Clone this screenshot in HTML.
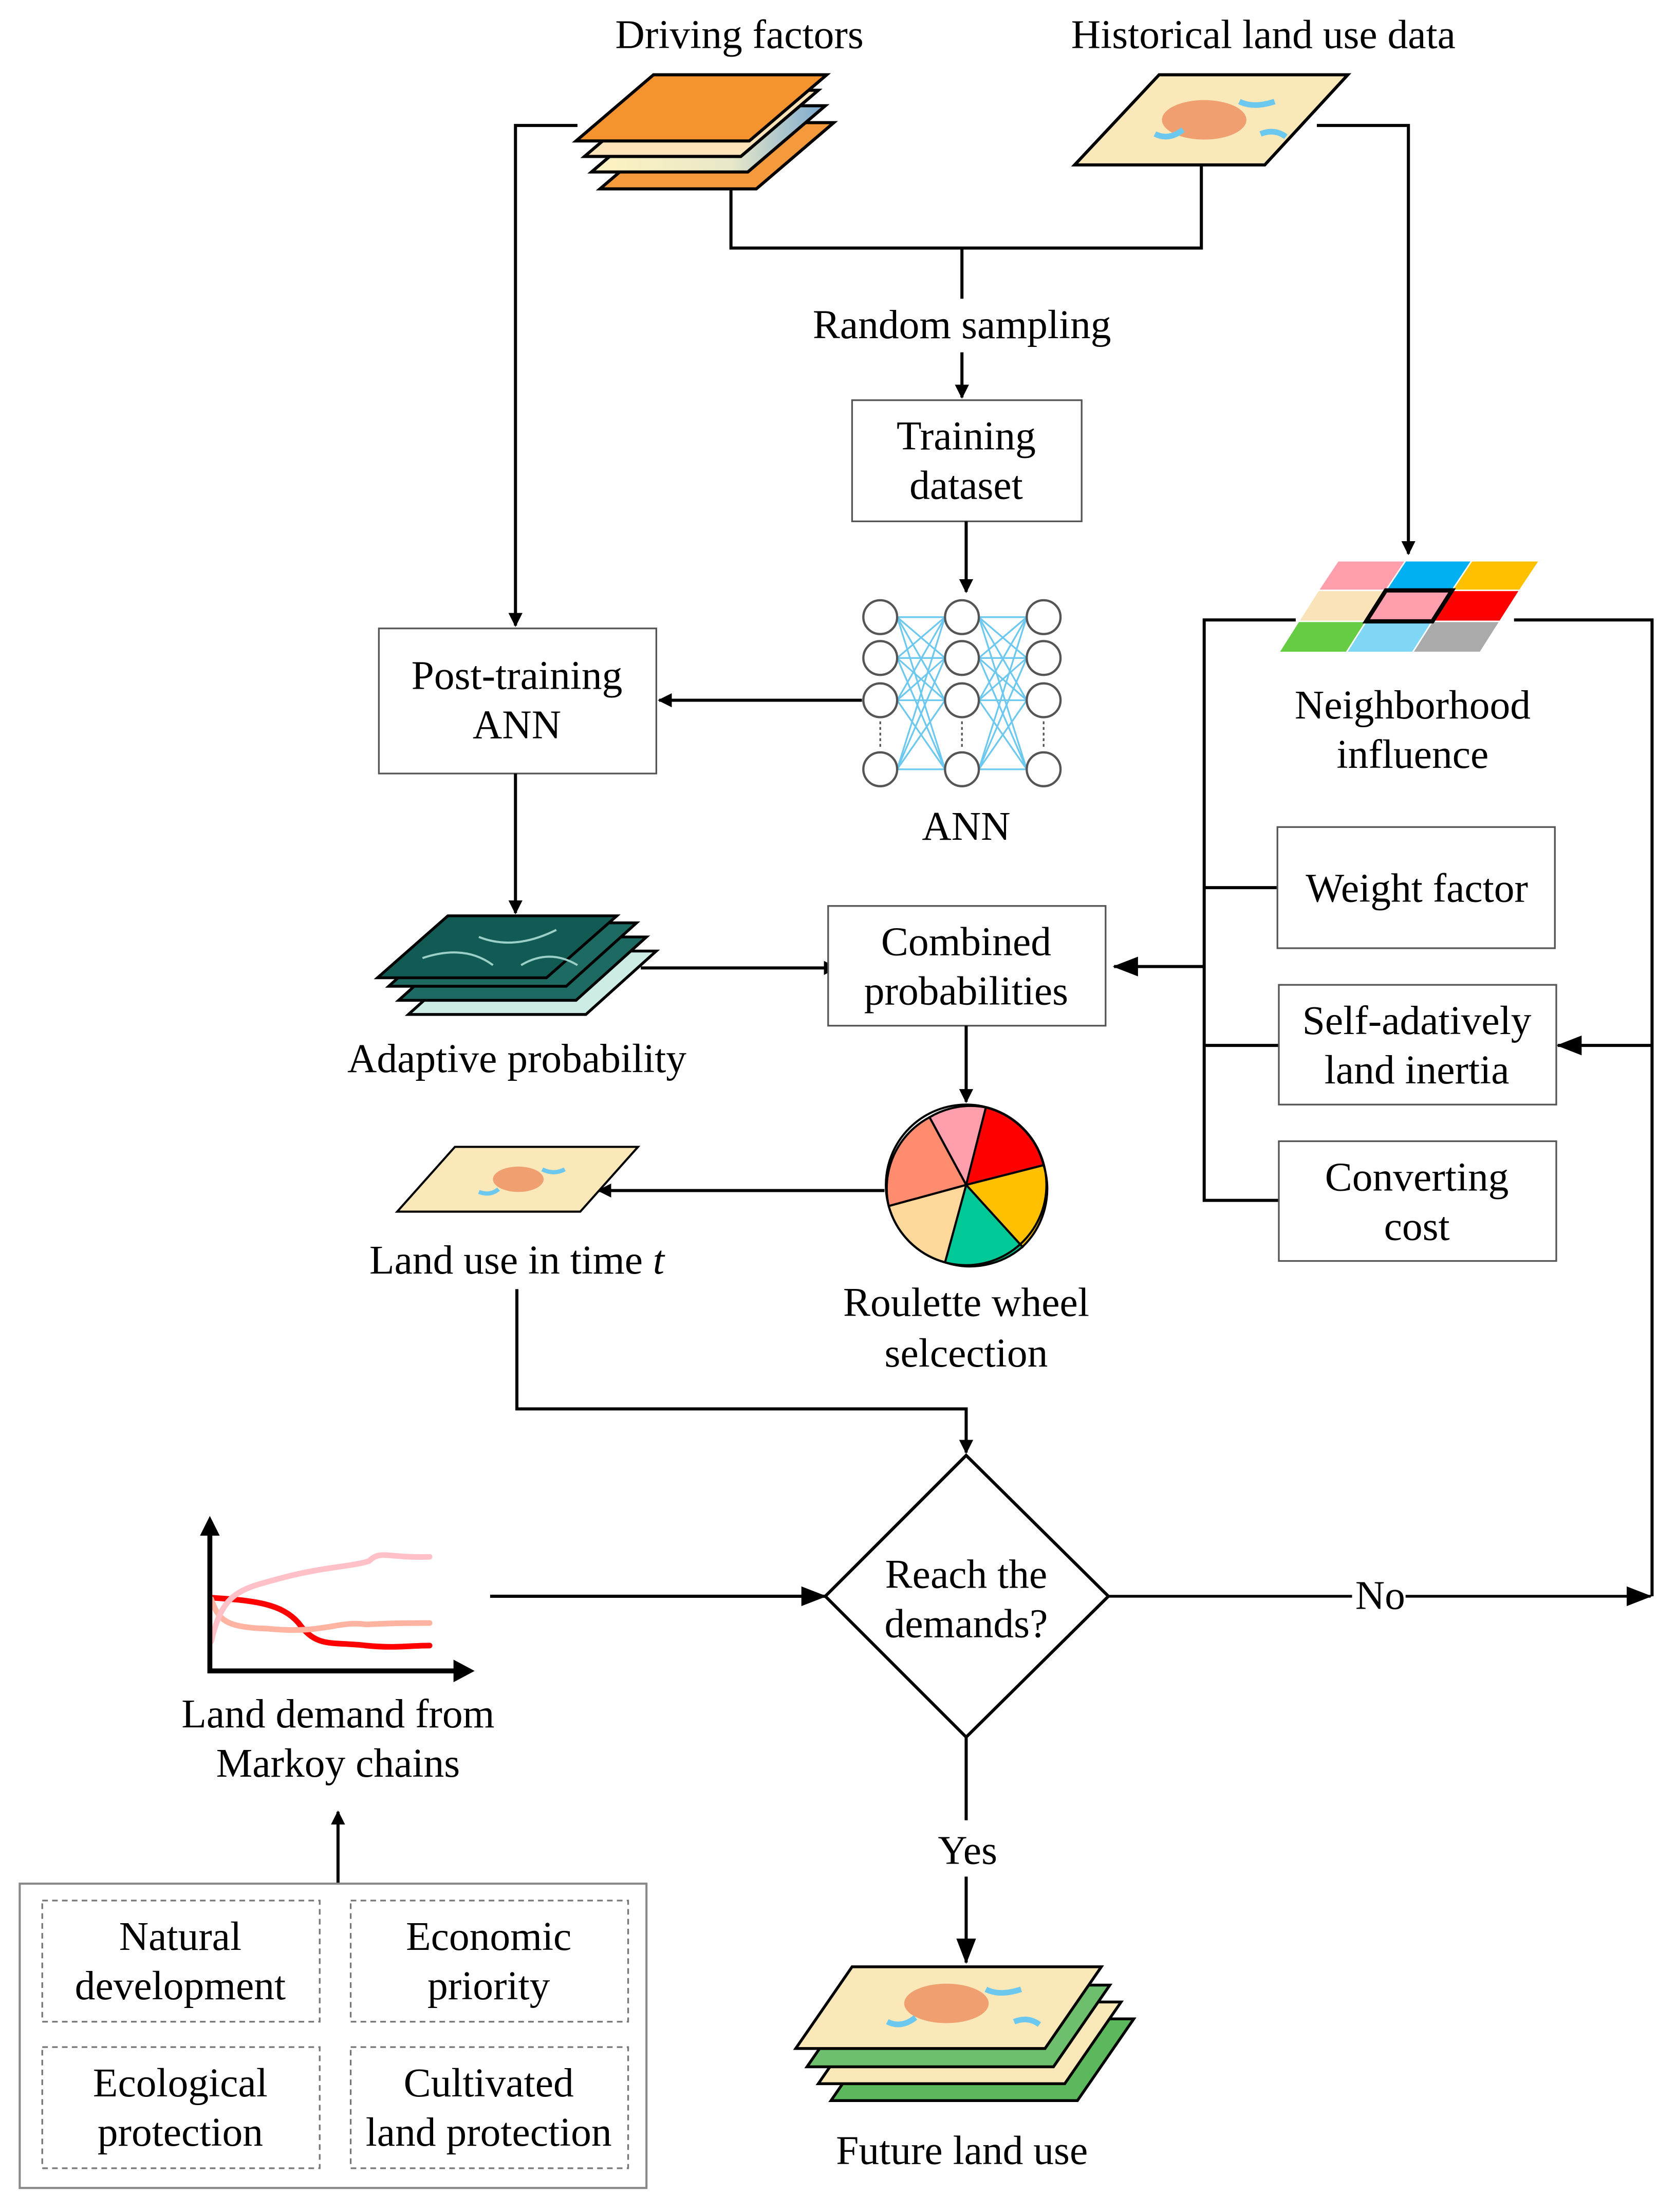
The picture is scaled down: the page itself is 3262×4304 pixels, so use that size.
<!DOCTYPE html>
<html><head><meta charset="utf-8"><style>
html,body{margin:0;padding:0;background:#fff;}
svg{display:block;}
text{font-family:"Liberation Serif","Times New Roman",serif;font-size:29px;fill:#000;}
</style></head><body>
<svg width="3262" height="4304" viewBox="0 0 1190 1570" xmlns="http://www.w3.org/2000/svg">
<defs>
<marker id="ar" markerWidth="10" markerHeight="10" refX="9" refY="5" orient="auto" markerUnits="userSpaceOnUse" viewBox="0 0 10 10">
<path d="M0,0 L10,5 L0,10 z" fill="#000"/></marker>
<marker id="ab" markerWidth="18" markerHeight="14" refX="17" refY="7" orient="auto" markerUnits="userSpaceOnUse" viewBox="0 0 18 14">
<path d="M0,0 L18,7 L0,14 z" fill="#000"/></marker>
<linearGradient id="g1" x1="0" y1="0" x2="1" y2="0"><stop offset="0" stop-color="#fff3c0"/><stop offset="0.6" stop-color="#e8e8c8"/><stop offset="1" stop-color="#7aa8d0"/></linearGradient>
</defs>
<g fill="none" stroke="#000" stroke-width="2.2">
<polygon points="426,134 481,87 592,87 537,134" fill="#f59a3c"/>
<polygon points="420,122 475,75 586,75 531,122" fill="url(#g1)"/>
<polygon points="415,111 470,64 581,64 526,111" fill="#fde3b8"/>
<polygon points="409,100 464,53 587,53 532,100" fill="#f5932e"/>
<polygon points="763,117 823,53 957,53 898,117" fill="#fae8b8"/>
<ellipse cx="855" cy="85" rx="30" ry="14" fill="#f0a070" stroke="none"/>
<path d="M880,72 q10,5 25,0 M820,95 q10,5 20,-3 M895,95 q10,-4 18,2" stroke="#6cc8ef" stroke-width="4"/>
<polyline points="519,134 519,176 853,176 853,117"/>
<line x1="683" y1="176" x2="683" y2="212"/>
<line x1="683" y1="250" x2="683" y2="282" marker-end="url(#ar)" stroke-width="2.2"/>
<polyline points="410,89 366,89 366,444" marker-end="url(#ar)"/>
<polyline points="935,89 1000,89 1000,393" marker-end="url(#ar)"/>
</g>
<text x="525" y="34" text-anchor="middle">Driving factors</text>
<text x="897" y="34" text-anchor="middle">Historical land use data</text>
<text x="683" y="240" text-anchor="middle">Random sampling</text>
<rect x="605" y="284" width="163" height="86" fill="#fff" stroke="#555" stroke-width="1.2"/>
<text x="686" y="319" text-anchor="middle">Training</text>
<text x="686" y="354" text-anchor="middle">dataset</text>
<line x1="686" y1="370" x2="686" y2="420" stroke="#000" stroke-width="2.2" marker-end="url(#ar)"/>
<g stroke="#6cc8ef" stroke-width="1.2">
<line x1="637" y1="438" x2="671" y2="438"/><line x1="637" y1="438" x2="671" y2="467"/><line x1="637" y1="438" x2="671" y2="497"/><line x1="637" y1="438" x2="671" y2="546"/>
<line x1="637" y1="467" x2="671" y2="438"/><line x1="637" y1="467" x2="671" y2="467"/><line x1="637" y1="467" x2="671" y2="497"/><line x1="637" y1="467" x2="671" y2="546"/>
<line x1="637" y1="497" x2="671" y2="438"/><line x1="637" y1="497" x2="671" y2="467"/><line x1="637" y1="497" x2="671" y2="497"/><line x1="637" y1="497" x2="671" y2="546"/>
<line x1="637" y1="546" x2="671" y2="438"/><line x1="637" y1="546" x2="671" y2="467"/><line x1="637" y1="546" x2="671" y2="497"/><line x1="637" y1="546" x2="671" y2="546"/>
<line x1="695" y1="438" x2="729" y2="438"/><line x1="695" y1="438" x2="729" y2="467"/><line x1="695" y1="438" x2="729" y2="497"/><line x1="695" y1="438" x2="729" y2="546"/>
<line x1="695" y1="467" x2="729" y2="438"/><line x1="695" y1="467" x2="729" y2="467"/><line x1="695" y1="467" x2="729" y2="497"/><line x1="695" y1="467" x2="729" y2="546"/>
<line x1="695" y1="497" x2="729" y2="438"/><line x1="695" y1="497" x2="729" y2="467"/><line x1="695" y1="497" x2="729" y2="497"/><line x1="695" y1="497" x2="729" y2="546"/>
<line x1="695" y1="546" x2="729" y2="438"/><line x1="695" y1="546" x2="729" y2="467"/><line x1="695" y1="546" x2="729" y2="497"/><line x1="695" y1="546" x2="729" y2="546"/>
</g>
<g fill="#fff" stroke="#555" stroke-width="1.6">
<circle cx="625" cy="438" r="12"/><circle cx="625" cy="467" r="12"/><circle cx="625" cy="497" r="12"/><circle cx="625" cy="546" r="12"/>
<circle cx="683" cy="438" r="12"/><circle cx="683" cy="467" r="12"/><circle cx="683" cy="497" r="12"/><circle cx="683" cy="546" r="12"/>
<circle cx="741" cy="438" r="12"/><circle cx="741" cy="467" r="12"/><circle cx="741" cy="497" r="12"/><circle cx="741" cy="546" r="12"/>
</g>
<g stroke="#555" stroke-width="1.2" stroke-dasharray="2,2"><line x1="625" y1="512" x2="625" y2="532"/><line x1="683" y1="512" x2="683" y2="532"/><line x1="741" y1="512" x2="741" y2="532"/></g>
<text x="686" y="596" text-anchor="middle">ANN</text>
<line x1="612" y1="497" x2="468" y2="497" stroke="#000" stroke-width="2.2" marker-end="url(#ar)"/>
<rect x="269" y="446" width="197" height="103" fill="#fff" stroke="#555" stroke-width="1.2"/>
<text x="367" y="489" text-anchor="middle">Post-training</text>
<text x="367" y="524" text-anchor="middle">ANN</text>
<line x1="366" y1="549" x2="366" y2="648" stroke="#000" stroke-width="2.2" marker-end="url(#ar)"/>
<g stroke="#000" stroke-width="2">
<polygon points="290,720 340,675 466,675 416,720" fill="#cdece6"/>
<polygon points="283,710 333,665 459,665 409,710" fill="#1d6a62"/>
<polygon points="276,700 326,655 452,655 402,700" fill="#1d6a62"/>
<polygon points="268,694 318,650 438,650 388,694" fill="#125a54"/>
</g>
<path d="M300,680 q30,-10 50,5 M340,665 q25,10 55,-5 M370,685 q20,-12 40,0" stroke="#9ad0c8" stroke-width="1.5" fill="none"/>
<text x="367" y="761" text-anchor="middle">Adaptive probability</text>
<line x1="455" y1="687" x2="594" y2="687" stroke="#000" stroke-width="2.2" marker-end="url(#ar)"/>
<rect x="588" y="643" width="197" height="85" fill="#fff" stroke="#555" stroke-width="1.2"/>
<text x="686" y="678" text-anchor="middle">Combined</text>
<text x="686" y="713" text-anchor="middle">probabilities</text>
<line x1="686" y1="728" x2="686" y2="782" stroke="#000" stroke-width="2.2" marker-end="url(#ar)"/>
<g stroke="#000" stroke-width="1.5">
<path d="M686,841 L660,793 A57,57 0 0,1 700,786 Z" fill="#ff9fad"/>
<path d="M686,841 L700,786 A57,57 0 0,1 741,827 Z" fill="#ff0000"/>
<path d="M686,841 L741,827 A57,57 0 0,1 726,885 Z" fill="#ffc000"/>
<path d="M686,841 L726,885 A57,57 0 0,1 671,896 Z" fill="#00c896"/>
<path d="M686,841 L671,896 A57,57 0 0,1 631,856 Z" fill="#fed89a"/>
<path d="M686,841 L631,856 A57,57 0 0,1 660,793 Z" fill="#ff8c6e"/>
<circle cx="686" cy="841" r="57" fill="none"/>
</g>
<text x="686" y="934" text-anchor="middle">Roulette wheel</text>
<text x="686" y="970" text-anchor="middle">selcection</text>
<line x1="628" y1="845" x2="425" y2="845" stroke="#000" stroke-width="2.2" marker-end="url(#ar)"/>
<polygon points="282,860 323,814 453,814 412,860" fill="#fae8b8" stroke="#000" stroke-width="1.5"/>
<ellipse cx="368" cy="837" rx="18" ry="9" fill="#f0a070"/>
<path d="M385,830 q8,4 16,0 M340,846 q8,3 14,-2" stroke="#6cc8ef" stroke-width="3" fill="none"/>
<text x="367" y="904" text-anchor="middle">Land use in time <tspan font-style="italic">t</tspan></text>
<polyline points="367,915 367,1000 686,1000 686,1031" fill="none" stroke="#000" stroke-width="2.2" marker-end="url(#ar)"/>
<g stroke="#fff" stroke-width="1">
<polygon points="950,398 998,398 984,419 936,419" fill="#ff9fad"/>
<polygon points="998,398 1045,398 1031,419 984,419" fill="#00b0f0"/>
<polygon points="1045,398 1093,398 1079,419 1031,419" fill="#ffc000"/>
<polygon points="936,419 984,419 970,441 922,441" fill="#fae3b8"/>
<polygon points="1031,419 1079,419 1065,441 1017,441" fill="#ff0000"/>
<polygon points="922,441 970,441 956,463 908,463" fill="#66cc44"/>
<polygon points="970,441 1017,441 1003,463 956,463" fill="#7fd7f5"/>
<polygon points="1017,441 1065,441 1051,463 1003,463" fill="#aaaaaa"/>
</g>
<polygon points="984,419 1031,419 1017,441 970,441" fill="#ff9fad" stroke="#000" stroke-width="3"/>
<text x="1003" y="510" text-anchor="middle">Neighborhood</text>
<text x="1003" y="545" text-anchor="middle">influence</text>
<g fill="none" stroke="#000" stroke-width="2.2">
<polyline points="920,440 855,440 855,852 908,852"/>
<line x1="855" y1="630" x2="907" y2="630"/>
<line x1="855" y1="742" x2="908" y2="742"/>
<polyline points="1075,440 1173,440 1173,1133"/>
</g>
<line x1="855" y1="686" x2="791" y2="686" stroke="#000" stroke-width="2.2" marker-end="url(#ab)"/>
<line x1="1173" y1="742" x2="1106" y2="742" stroke="#000" stroke-width="2.2" marker-end="url(#ab)"/>
<rect x="907" y="587" width="197" height="86" fill="#fff" stroke="#555" stroke-width="1.2"/>
<text x="1006" y="640" text-anchor="middle">Weight factor</text>
<rect x="908" y="699" width="197" height="85" fill="#fff" stroke="#555" stroke-width="1.2"/>
<text x="1006" y="734" text-anchor="middle">Self-adatively</text>
<text x="1006" y="769" text-anchor="middle">land inertia</text>
<rect x="908" y="810" width="197" height="85" fill="#fff" stroke="#555" stroke-width="1.2"/>
<text x="1006" y="845" text-anchor="middle">Converting</text>
<text x="1006" y="880" text-anchor="middle">cost</text>
<polygon points="686,1033 787,1133 686,1233 586,1133" fill="#fff" stroke="#000" stroke-width="2.2"/>
<text x="686" y="1127" text-anchor="middle">Reach the</text>
<text x="686" y="1162" text-anchor="middle">demands?</text>
<line x1="348" y1="1133" x2="586" y2="1133" stroke="#000" stroke-width="2.2" marker-end="url(#ab)"/>
<line x1="787" y1="1133" x2="960" y2="1133" stroke="#000" stroke-width="2"/>
<line x1="998" y1="1133" x2="1172" y2="1133" stroke="#000" stroke-width="2" marker-end="url(#ab)"/>
<text x="980" y="1142" text-anchor="middle">No</text>
<line x1="686" y1="1233" x2="686" y2="1292" stroke="#000" stroke-width="2.2"/>
<text x="687" y="1323" text-anchor="middle">Yes</text>
<line x1="686" y1="1332" x2="686" y2="1393" stroke="#000" stroke-width="2.2" marker-end="url(#ab)"/>
<g stroke="#000" stroke-width="2">
<polygon points="590,1491 630,1433 805,1433 765,1491" fill="#5cb85c"/>
<polygon points="581,1479 621,1421 796,1421 756,1479" fill="#fae8b8"/>
<polygon points="573,1467 613,1409 788,1409 748,1467" fill="#6dbe6d"/>
<polygon points="565,1454 605,1396 782,1396 742,1454" fill="#fae8b8"/>
</g>
<ellipse cx="672" cy="1422" rx="30" ry="14" fill="#f0a070"/>
<path d="M700,1412 q10,5 25,0 M630,1435 q10,5 20,-3 M720,1435 q10,-4 18,2" stroke="#6cc8ef" stroke-width="4" fill="none"/>
<text x="683" y="1536" text-anchor="middle">Future land use</text>
<g fill="none" stroke-linecap="round">
<path d="M150,1134 C180,1136 200,1138 212,1152 C225,1170 235,1165 260,1168 C280,1170 290,1168 305,1168" stroke="#ff0000" stroke-width="4"/>
<path d="M150,1135 C155,1150 160,1155 190,1156 C230,1160 240,1150 260,1153 C280,1152 290,1152 305,1152" stroke="#ffb3a0" stroke-width="4"/>
<path d="M150,1165 C158,1130 170,1128 200,1120 C230,1112 250,1112 262,1108 C270,1100 275,1106 305,1105" stroke="#ffc0c8" stroke-width="4"/>
</g>
<polyline points="149,1085 149,1186 330,1186" fill="none" stroke="#000" stroke-width="3.5"/>
<path d="M142,1090 L149,1076 L156,1090 Z M322,1178 L337,1186 L322,1194 Z" fill="#000"/>
<text x="240" y="1226" text-anchor="middle">Land demand from</text>
<text x="240" y="1261" text-anchor="middle">Markoy chains</text>
<line x1="240" y1="1337" x2="240" y2="1286" stroke="#000" stroke-width="2.2" marker-end="url(#ar)"/>
<rect x="14" y="1337" width="445" height="216" fill="#fff" stroke="#888" stroke-width="1.5"/>
<g fill="none" stroke="#777" stroke-width="1.2" stroke-dasharray="4,3">
<rect x="30" y="1349" width="197" height="86"/><rect x="249" y="1349" width="197" height="86"/>
<rect x="30" y="1453" width="197" height="86"/><rect x="249" y="1453" width="197" height="86"/>
</g>
<text x="128" y="1384" text-anchor="middle">Natural</text>
<text x="128" y="1419" text-anchor="middle">development</text>
<text x="347" y="1384" text-anchor="middle">Economic</text>
<text x="347" y="1419" text-anchor="middle">priority</text>
<text x="128" y="1488" text-anchor="middle">Ecological</text>
<text x="128" y="1523" text-anchor="middle">protection</text>
<text x="347" y="1488" text-anchor="middle">Cultivated</text>
<text x="347" y="1523" text-anchor="middle">land protection</text>
</svg>
</body></html>
